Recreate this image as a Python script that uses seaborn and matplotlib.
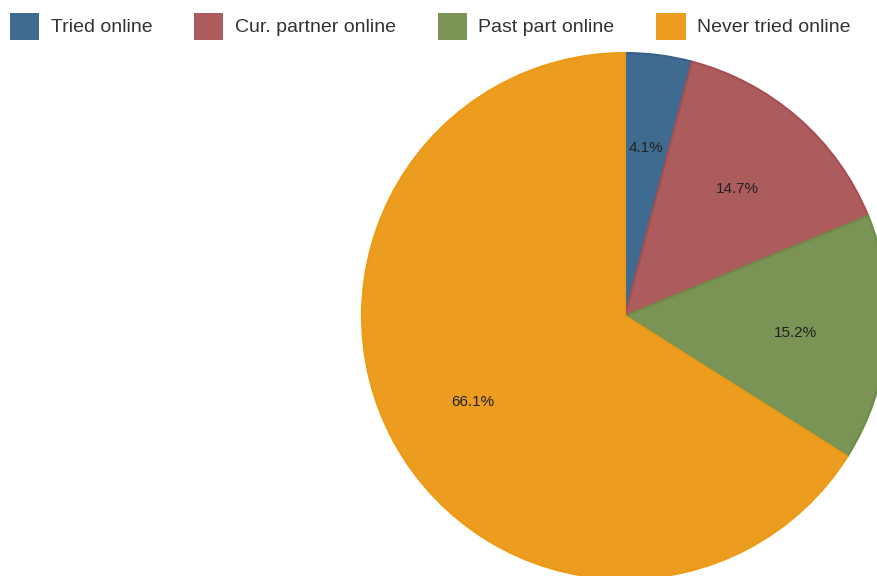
import matplotlib
matplotlib.use('Agg')
import matplotlib.pyplot as plt
import matplotlib.transforms as mtransforms
import seaborn as sns

# data
categories = ['Tried online', 'Cur. partner online', 'Past part online', 'Never tried online']
shares = [4.1, 14.7, 15.2, 66.1]
fill_colors = ['#3f6b91', '#ad5c5e', '#799455', '#ec9c1f']
edge_colors = ['#35628b', '#a64e51', '#6d8c45', '#ec9a12']

sns.set_style('white')
plt.rcParams['font.family'] = ['Liberation Sans', 'DejaVu Sans']

fig = plt.figure(figsize=(8.77, 5.76), dpi=100)
# pie centre at (625, 316) px, radius 263 px
cx, cy, r = 625, 316, 263
W, H = 877, 576
ax = fig.add_axes([(cx - r) / W, (H - cy - r) / H, 2 * r / W, 2 * r / H])

pct_iter = iter(shares)
wedges, texts, autotexts = ax.pie(
    shares, colors=fill_colors, startangle=90, counterclock=False,
    autopct=lambda p: f'{next(pct_iter):.1f}%', pctdistance=0.655,
    radius=1, wedgeprops=dict(linewidth=1.5),
    textprops=dict(fontsize=11, color='#222222'))
for w, c in zip(wedges, edge_colors):
    w.set_edgecolor(c)
# nudge the percentage labels a few pixels down
shift = mtransforms.offset_copy(ax.transData, fig=fig, x=-1, y=-2.5, units='dots')
for t in autotexts:
    t.set_transform(shift)
ax.set_xlim(-1, 1)
ax.set_ylim(-1, 1)
ax.set_aspect('equal')
ax.axis('off')

fig.legend(wedges, categories, loc='upper left', bbox_to_anchor=(0.0, 1 - 3 / H),
           ncol=4, frameon=False, fontsize=14, labelcolor='#333333',
           handlelength=1.5, handleheight=1.75, handletextpad=0.6,
           columnspacing=2.15, borderaxespad=0.1)
# legend handles: plain fill without edge
for h in fig.legends[0].legend_handles:
    h.set_edgecolor('none')

fig.savefig('out.png', dpi=100)
